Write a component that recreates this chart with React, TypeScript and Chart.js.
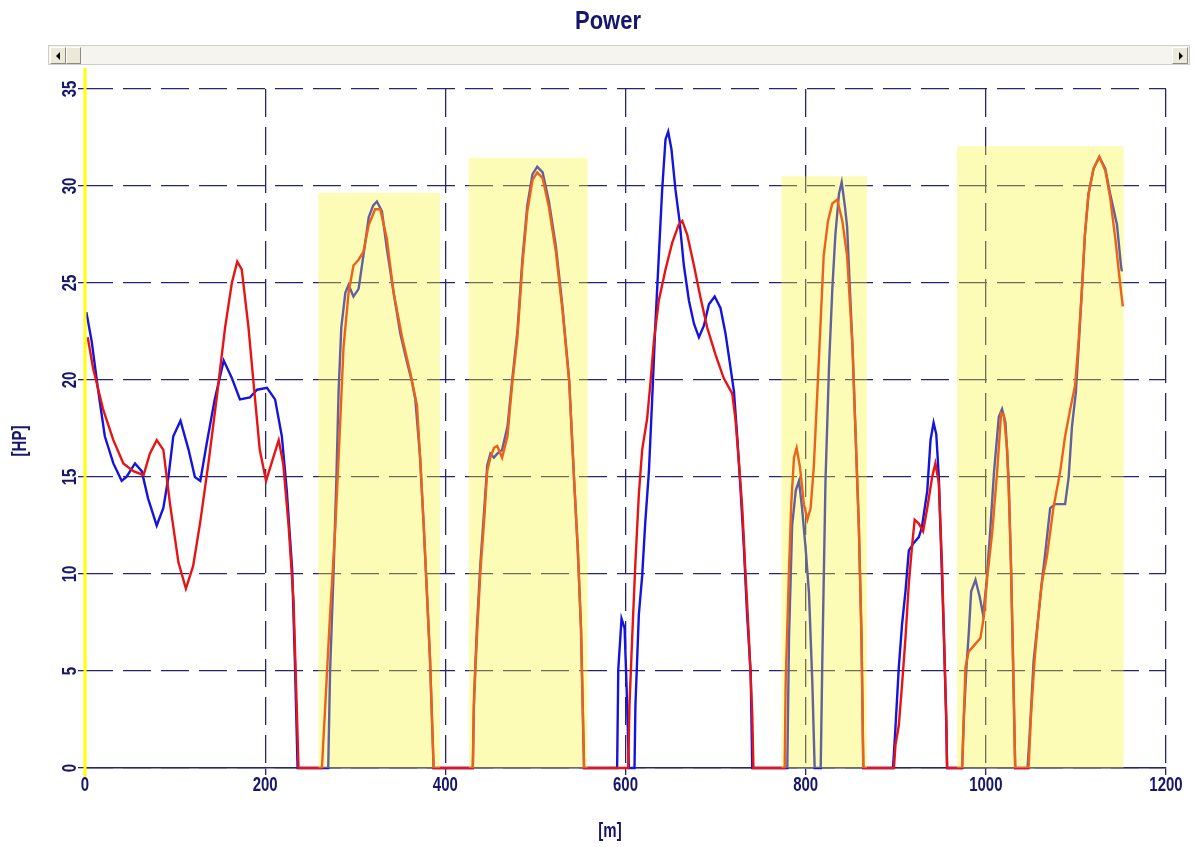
import React, { useEffect, useRef } from "react";
import { Chart, registerables } from "chart.js";

Chart.register(...registerables);

// ---------- data ----------
const titleText = "Power";
const xAxisTitle = "[m]";
const yAxisTitle = "[HP]";

const redX = [3, 9, 20, 31.5, 42.6, 53.7, 65, 72, 79.6, 87, 94.4, 103.7, 112, 120, 128, 137, 146, 155.5, 163, 169, 174, 181.5, 187, 194, 201, 207, 215, 220, 226, 231.5, 235, 237,
  263, 266.7, 272, 278, 282.6, 287, 292.6, 298, 303.7, 309, 315, 322, 327.8, 335, 342.6, 352, 361, 368.5, 372, 376, 379.6, 383, 387,
  430.5, 431.6, 435, 439, 443, 446.5, 450, 454, 457.6, 463, 469, 474, 480, 485.5, 491, 496.7, 502, 508, 515, 522.7, 530, 537.5, 543, 547, 550.6, 554,
  603, 604.4, 607.4, 611, 614.8, 618.5, 624, 627.8, 631.5, 637, 644.4, 652, 659, 663, 668.5, 676, 683, 690.7, 700, 709, 718.5, 722, 726, 729.6, 733, 737, 740.7, 742,
  776.7, 777.8, 781.5, 784, 787, 790, 793.7, 798, 801.9, 805.5, 809, 813, 816.7, 820, 824.8, 829.6, 835, 840.7, 846, 852, 855.5, 859, 862, 864,
  898, 899.7, 903.4, 907, 910.8, 914.5, 918, 921, 925.6, 930.4, 935, 940.4, 944, 947.8, 951.5, 954, 956, 957,
  973.7, 977.4, 981, 988.5, 994, 997.8, 1001.5, 1007, 1012.6, 1017, 1020, 1023.7, 1026, 1028, 1030, 1032.6,
  1047.5, 1050, 1054, 1058.5, 1062, 1067.8, 1075, 1082.6, 1088, 1093.7, 1099, 1103, 1106.7, 1110, 1114, 1119.6, 1126, 1132.6, 1138, 1143.7, 1149, 1152];
const redY = [22.2, 20.6, 18.5, 16.9, 15.7, 15.3, 15.1, 16.2, 16.9, 16.4, 13.6, 10.6, 9.25, 10.4, 12.7, 15.7, 19.0, 22.7, 25.0, 26.1, 25.7, 22.7, 19.9, 16.4, 14.8, 15.7, 16.9, 15.7, 12.5, 8.6, 3.2, 0,
  0, 3.2, 7.9, 12.5, 17.1, 21.7, 24.5, 25.9, 26.2, 26.6, 28.0, 28.8, 28.8, 27.3, 24.5, 22.2, 20.4, 18.7, 16.0, 12.5, 9.0, 5.6, 0,
  0, 3.2, 6.7, 10.2, 12.7, 15.3, 16.0, 16.5, 16.6, 16.0, 17.1, 19.7, 22.2, 25.9, 28.7, 30.3, 30.7, 30.4, 28.9, 26.6, 23.6, 19.9, 14.8, 11.3, 7.2, 0,
  0, 3.2, 6.7, 10.6, 14.1, 16.4, 18.0, 19.9, 22.0, 24.1, 25.7, 27.1, 28.0, 28.2, 27.5, 25.9, 24.3, 22.7, 21.3, 20.1, 19.3, 18.0, 15.7, 13.4, 10.2, 6.7, 2.8, 0,
  0, 4.4, 10.2, 13.6, 16.0, 16.5, 15.5, 13.6, 12.8, 13.4, 15.5, 19.4, 23.1, 26.4, 28.2, 29.1, 29.3, 28.2, 26.4, 21.7, 17.1, 12.5, 6.7, 0,
  0, 1.2, 2.2, 4.3, 6.7, 9.5, 11.4, 12.8, 12.6, 12.2, 13.4, 15.0, 15.7, 14.7, 10.3, 6.0, 2.6, 0,
  0, 5.2, 6.0, 6.4, 6.7, 7.8, 9.8, 12.1, 15.3, 18.3, 18.2, 16.4, 13.5, 10.3, 6.0, 0,
  0, 2.6, 5.5, 7.9, 9.5, 10.9, 13.4, 15.3, 17.1, 18.5, 19.7, 22.0, 24.7, 27.5, 29.6, 30.9, 31.5, 30.8, 29.4, 27.3, 25.0, 23.8];

const blueX = [1.5, 7.4, 14.8, 22, 31.5, 40.7, 46, 55.5, 63, 70, 79.6, 87, 92.6, 98, 106, 115, 122, 128, 135, 144, 154, 163, 172, 183, 191, 202, 211, 218.5, 224, 230, 233, 236,
  270, 272, 276, 279, 281.5, 284.5, 289, 292.6, 298, 303.7, 309, 315, 320, 324, 329.6, 335, 342.6, 350, 357, 363, 366.7, 372, 376, 379.6, 383, 387,
  430.5, 432, 435, 439, 443, 446.5, 450, 454, 457.6, 463, 469, 474, 480, 485.5, 491, 496.7, 502, 508, 515, 522.7, 530, 537.5, 543, 547, 550.6, 554,
  590.7, 592, 595.6, 599, 601.9, 603.7, 610, 611, 614.8, 618.5, 622, 626, 629.6, 633, 637, 640.7, 644.4, 647.4, 651, 655.5, 660, 664.8, 670.4, 676, 681.5, 687, 692.6, 699, 705.5, 711, 716.7, 720.4, 724, 727.8, 731.5, 735, 739, 740.7,
  779.6, 781.5, 785, 789, 792.6, 796, 800, 803.7, 807.4, 810, 816.7, 818.5, 822, 826, 829.6, 833, 837, 840, 843.7, 846, 852, 855.5, 859, 862, 864,
  897, 899.7, 903.4, 907, 910.8, 914.5, 920, 925.6, 929, 935, 938.6, 942, 945, 947.8, 950.4, 953.4, 956, 957,
  973.7, 975.6, 978.5, 981, 983.7, 988.5, 993.3, 997, 1000.7, 1004.4, 1009, 1014.4, 1018, 1021.8, 1025.5, 1028, 1030, 1032.6,
  1046.3, 1048.5, 1053, 1058.5, 1062, 1066, 1071.4, 1077, 1088, 1092, 1095.6, 1100, 1103, 1106.7, 1110, 1114, 1119.6, 1126, 1132.6, 1138, 1145.6, 1150, 1151];
const blueY = [23.5, 22.0, 19.4, 17.1, 15.7, 14.8, 15.0, 15.7, 15.3, 13.9, 12.5, 13.4, 15.0, 17.1, 17.9, 16.4, 15.0, 14.8, 16.7, 19.0, 21.0, 20.1, 19.0, 19.1, 19.5, 19.6, 19.0, 17.1, 14.3, 10.2, 5.5, 0,
  0, 4.9, 10.2, 14.8, 19.4, 22.7, 24.5, 24.9, 24.3, 24.7, 26.4, 28.4, 29.0, 29.2, 28.7, 26.8, 24.5, 22.4, 21.0, 19.9, 19.0, 16.0, 12.5, 9.0, 5.6, 0,
  0, 3.8, 7.2, 10.6, 13.2, 15.6, 16.2, 16.0, 16.2, 16.4, 17.6, 19.9, 22.5, 26.2, 29.0, 30.6, 31.0, 30.7, 29.2, 26.9, 23.8, 20.0, 14.8, 11.3, 7.2, 0,
  0, 5.1, 7.7, 7.2, 3.2, 0, 0, 3.2, 7.9, 9.9, 12.7, 15.3, 19.0, 22.7, 26.4, 29.8, 32.4, 32.8, 31.9, 29.8, 28.2, 25.9, 24.1, 22.9, 22.2, 22.8, 23.9, 24.3, 23.7, 22.4, 20.6, 19.4, 17.1, 14.3, 11.3, 7.9, 4.9, 0,
  0, 6.7, 12.5, 14.3, 14.8, 13.4, 11.3, 9.0, 4.4, 0, 0, 5.6, 14.8, 20.8, 24.7, 27.5, 29.6, 30.2, 28.9, 27.9, 21.7, 17.1, 12.5, 6.7, 0,
  0, 2.1, 5.2, 7.4, 9.1, 11.2, 11.6, 11.9, 12.4, 14.3, 16.9, 17.8, 17.2, 15.0, 11.2, 6.9, 2.6, 0,
  0, 2.6, 5.2, 6.9, 9.1, 9.7, 8.8, 7.9, 9.5, 11.9, 15.2, 18.1, 18.5, 17.8, 14.7, 10.3, 6.0, 0,
  0, 1.6, 5.5, 7.9, 9.5, 11.1, 13.4, 13.6, 13.6, 15.0, 17.6, 19.4, 21.7, 24.7, 27.5, 29.6, 30.9, 31.5, 30.9, 29.6, 28.0, 25.9, 25.6];

const regionStart = [259, 426, 773, 968];
const regionEnd = [394, 558, 868, 1153];
const regionTop = [29.65, 31.45, 30.5, 32.05];

const cursorX = 0;
const xMin = 0, xMax = 1200, xStep = 200;
const yMin = 0, yMax = 35, yStep = 5;

// ---------- styles ----------
const NAVY = "#16166c";
const GRID = "#26266e";
const RED = "#e61414";
const BLUE = "#1414dc";
const FONT = "bold 15px 'Liberation Sans', Arial, sans-serif";
const STRETCH = 1.4;
const DASH = [28, 10];

function drawText(ctx: CanvasRenderingContext2D, text: string, x: number, y: number, rot: number, font: string, sy: number) {
  ctx.save();
  ctx.translate(x, y);
  ctx.rotate(rot);
  ctx.scale(1, sy);
  ctx.font = font;
  ctx.fillStyle = NAVY;
  ctx.textAlign = "center";
  ctx.textBaseline = "middle";
  ctx.fillText(text, 0, 0);
  ctx.restore();
}

const overlayPlugin = {
  id: "overlay",
  afterDraw(chart: any) {
    const { ctx, chartArea } = chart;
    const xs = chart.scales.x;
    const ys = chart.scales.y;
    ctx.save();
    // shaded regions drawn over everything
    ctx.fillStyle = "rgba(250,245,40,0.34)";
    for (let i = 0; i < regionStart.length; i++) {
      const x1 = xs.getPixelForValue(regionStart[i]);
      const x2 = xs.getPixelForValue(regionEnd[i]);
      const yt = ys.getPixelForValue(regionTop[i]);
      const yb = ys.getPixelForValue(0);
      ctx.fillRect(x1, yt, x2 - x1, yb - yt);
    }
    // cursor
    const cx = xs.getPixelForValue(cursorX);
    ctx.strokeStyle = "#ffff00";
    ctx.lineWidth = 3;
    ctx.beginPath();
    ctx.moveTo(cx, chartArea.top - 21);
    ctx.lineTo(cx, chartArea.bottom + 9);
    ctx.stroke();
    ctx.restore();

    // tick labels
    for (const t of xs.ticks) {
      drawText(ctx, String(t.value), xs.getPixelForValue(t.value), chartArea.bottom + 17, 0, FONT, STRETCH);
    }
    for (const t of ys.ticks) {
      drawText(ctx, String(t.value), chartArea.left - 15, ys.getPixelForValue(t.value), -Math.PI / 2, FONT, STRETCH);
    }
    // axis titles
    drawText(ctx, xAxisTitle, 610, chartArea.bottom + 63, 0, FONT, STRETCH);
    drawText(ctx, yAxisTitle, 20, 441, -Math.PI / 2, FONT, STRETCH);
    // title
    drawText(ctx, titleText, 608, 22, 0, "bold 22px 'Liberation Sans', Arial, sans-serif", 1.2);
  },
};

function ScrollBar() {
  const btn: React.CSSProperties = {
    position: "absolute",
    top: 1,
    width: 16,
    height: 17,
    background: "#ece9d8",
    borderTop: "1px solid #ffffff",
    borderLeft: "1px solid #ffffff",
    borderRight: "1px solid #8a8a80",
    borderBottom: "1px solid #8a8a80",
    boxSizing: "border-box",
  };
  return (
    <div style={{ position: "absolute", left: 48, top: 45, width: 1142, height: 20, background: "#f5f4ef", border: "1px solid #cfcec6", boxSizing: "border-box" }}>
      <div style={{ ...btn, left: 1 }}>
        <div style={{ position: "absolute", left: 5, top: 4, width: 0, height: 0, borderTop: "4px solid transparent", borderBottom: "4px solid transparent", borderRight: "4px solid #000" }} />
      </div>
      <div style={{ ...btn, left: 17, width: 15 }} />
      <div style={{ ...btn, right: 1 }}>
        <div style={{ position: "absolute", left: 6, top: 4, width: 0, height: 0, borderTop: "4px solid transparent", borderBottom: "4px solid transparent", borderLeft: "4px solid #000" }} />
      </div>
    </div>
  );
}

export default function App() {
  const ref = useRef<HTMLCanvasElement | null>(null);
  useEffect(() => {
    if (!ref.current) return;
    const toPts = (xa: number[], ya: number[]) => xa.map((x, i) => ({ x, y: ya[i] }));
    const chart = new Chart(ref.current, {
      type: "line",
      data: {
        datasets: [
          { label: "red", data: toPts(redX, redY), borderColor: RED, borderWidth: 2.4, pointRadius: 0, tension: 0, clip: 6, fill: false },
          { label: "blue", data: toPts(blueX, blueY), borderColor: BLUE, borderWidth: 2.4, pointRadius: 0, tension: 0, clip: 6, fill: false },
        ],
      },
      options: {
        animation: false,
        responsive: true,
        maintainAspectRatio: false,
        parsing: false,
        layout: { padding: { left: 8, top: 89, right: 31, bottom: 0 } },
        plugins: { legend: { display: false }, title: { display: false }, tooltip: { enabled: false } },
        scales: {
          x: {
            type: "linear",
            min: xMin,
            max: xMax,
            ticks: { stepSize: xStep, display: false },
            grid: { color: GRID, lineWidth: 1.3, drawTicks: true, tickLength: 7, tickBorderDash: [], tickColor: GRID },
            border: { display: true, color: GRID, width: 1.5, dash: DASH },
            afterFit: (s: any) => { s.height = 79; },
          },
          y: {
            min: yMin,
            max: yMax,
            ticks: { stepSize: yStep, display: false },
            grid: { color: GRID, lineWidth: 1.3, drawTicks: true, tickLength: 7, tickBorderDash: [], tickColor: GRID },
            border: { display: false, dash: DASH },
            afterFit: (s: any) => { s.width = 77; },
          },
        },
      },
      plugins: [overlayPlugin],
    } as any);
    return () => chart.destroy();
  }, []);

  return (
    <div style={{ position: "absolute", left: 0, top: 0, width: 1197, height: 847, background: "#ffffff" }}>
      <canvas ref={ref} />
      <ScrollBar />
    </div>
  );
}
